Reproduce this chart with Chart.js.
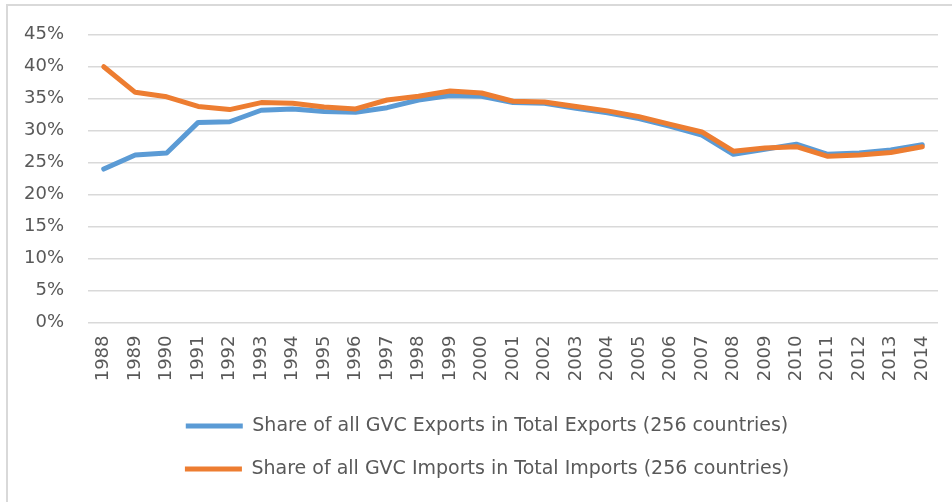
<!DOCTYPE html>
<html>
<head>
<meta charset="utf-8">
<script src="https://cdn.jsdelivr.net/npm/chart.js@4.4.1/dist/chart.umd.min.js"></script>
<style>
  html, body { margin: 0; padding: 0; background: #fff; }
  #frame { position: absolute; left: 6px; top: 4px; width: 1000px; height: 600px;
           border-left: 2px solid #d9d9d9; border-top: 2px solid #d9d9d9; box-sizing: border-box; }
  #wrap { position: absolute; left: 0; top: 0; width: 952px; height: 502px; }
</style>
</head>
<body>
<div id="frame"></div>
<div id="wrap"><canvas id="c" width="952" height="502"></canvas></div>
<script>
const years = ["1988","1989","1990","1991","1992","1993","1994","1995","1996","1997","1998","1999","2000","2001","2002","2003","2004","2005","2006","2007","2008","2009","2010","2011","2012","2013","2014"];
const exportsShare = [24.0, 26.2, 26.5, 31.3, 31.4, 33.2, 33.4, 33.0, 32.9, 33.6, 34.8, 35.5, 35.4, 34.4, 34.3, 33.5, 32.8, 31.9, 30.7, 29.3, 26.3, 27.1, 27.9, 26.3, 26.5, 27.0, 27.8];
const importsShare = [40.0, 36.0, 35.3, 33.8, 33.3, 34.4, 34.3, 33.7, 33.4, 34.8, 35.4, 36.2, 35.9, 34.6, 34.5, 33.8, 33.1, 32.2, 31.0, 29.8, 26.8, 27.3, 27.5, 26.0, 26.2, 26.6, 27.5];
const yTicks = [0, 5, 10, 15, 20, 25, 30, 35, 40, 45];
const seriesNames = ["Share of all GVC Exports in Total Exports (256 countries)", "Share of all GVC Imports in Total Imports (256 countries)"];

const textColor = "#595959";
const gridColor = "#d9d9d9";

const legendShift = {
  id: "legendShift",
  afterLayout(chart) {
    if (chart.legend) { chart.legend.left += 18; chart.legend.right += 18; }
  }
};

new Chart(document.getElementById("c"), {
  type: "line",
  plugins: [legendShift],
  data: {
    labels: years,
    datasets: [
      { label: seriesNames[0], data: exportsShare, borderColor: "#5b9bd5", backgroundColor: "#5b9bd5",
        borderWidth: 5, pointRadius: 0, tension: 0, borderCapStyle: "round", borderJoinStyle: "round", order: 1 },
      { label: seriesNames[1], data: importsShare, borderColor: "#ed7d31", backgroundColor: "#ed7d31",
        borderWidth: 5, pointRadius: 0, tension: 0, borderCapStyle: "round", borderJoinStyle: "round", order: 0 }
    ]
  },
  options: {
    responsive: false,
    animation: false,
    layout: { padding: { top: 33, left: 0, right: 14, bottom: 13.5 } },
    plugins: {
      tooltip: { enabled: false },
      legend: {
        position: "bottom",
        labels: {
          usePointStyle: true,
          pointStyle: "line",
          pointStyleWidth: 57,
          padding: 24,
          color: textColor,
          font: { family: "DejaVu Sans", size: 19 },
          sort: (a, b) => a.datasetIndex - b.datasetIndex
        }
      }
    },
    scales: {
      x: {
        offset: true,
        grid: { display: false, drawTicks: false, offset: true },
        border: { display: false },
        ticks: { minRotation: 90, maxRotation: 90, autoSkip: false, padding: 13, color: textColor,
                 font: { family: "DejaVu Sans", size: 18 } },
        afterFit: (s) => { s.height = 70; s.paddingLeft = 0; s.paddingRight = 0; }
      },
      y: {
        min: 0, max: 45,
        afterBuildTicks: (s) => { s.ticks = yTicks.map(v => ({ value: v })); },
        grid: { color: gridColor, lineWidth: 1.5, drawTicks: false },
        border: { display: false },
        ticks: { padding: 24, color: textColor, font: { family: "DejaVu Sans", size: 18 },
                 callback: (v) => v + "%" },
        afterFit: (s) => { s.width = 88; }
      }
    }
  }
});
</script>
</body>
</html>
